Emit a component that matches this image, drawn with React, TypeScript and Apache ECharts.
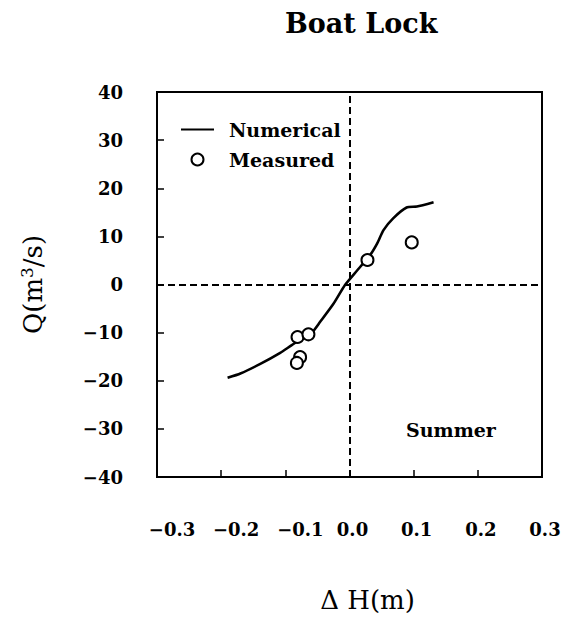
import React, { useEffect, useRef } from "react";
import * as echarts from "echarts";

const numericalX = [-0.19, -0.17, -0.139, -0.108, -0.09, -0.072, -0.058, -0.046, -0.025, -0.007, 0.0115, 0.032, 0.043, 0.053, 0.068, 0.089, 0.105, 0.131];
const numericalQ = [-19.4, -18.5, -16.5, -14.2, -12.6, -11.1, -9.9, -7.8, -4.0, -0.1, 2.85, 6.1, 8.5, 11.3, 13.75, 16.0, 16.2, 17.1];
const measuredX = [-0.081, -0.064, -0.077, -0.082, 0.028, 0.097];
const measuredQ = [-10.9, -10.35, -15.1, -16.3, 5.1, 8.75];

const FONT = "'DejaVu Serif', serif";

function fmt(v: number): string {
  const s = Math.abs(v) < 1e-9 ? "0" : String(Math.round(v));
  return s.replace("-", "\u2212");
}
function fmtX(v: number): string {
  const r = Math.round(v * 10) / 10;
  const s = Math.abs(r) < 1e-9 ? "0.0" : r.toFixed(1);
  return r < -1e-9 ? "{neg|" + s.replace("-", "\u2212") + "}" : "{pos|" + s + "}";
}

export default function App() {
  const ref = useRef<HTMLDivElement>(null);
  useEffect(() => {
    if (!ref.current) return;
    const chart = echarts.init(ref.current, null, { renderer: "svg" });
    chart.setOption({
      animation: false,
      backgroundColor: "#fff",
      title: {
        text: "Boat Lock",
        left: 280,
        top: 5,
        textStyle: { fontFamily: FONT, fontWeight: "bold", fontSize: 27, color: "#000" },
      },
      grid: { left: 157, right: 26, top: 92, bottom: 146, show: true, borderColor: "#000", borderWidth: 2 },
      legend: {
        orient: "vertical",
        left: 180,
        top: 120,
        itemWidth: 33,
        itemHeight: 12,
        itemGap: 11,
        padding: 0,
        textStyle: { fontFamily: FONT, fontWeight: "bold", fontSize: 19, color: "#000", padding: [0, 0, 0, 10] },
        data: [
          { name: "Numerical", itemStyle: { color: "rgba(0,0,0,0)", borderWidth: 0, opacity: 0 } },
          { name: "Measured", icon: "emptyCircle" },
        ],
      },
      xAxis: {
        type: "value",
        min: -0.3,
        max: 0.3,
        interval: 0.1,
        name: "\u0394 H(m)",
        nameLocation: "middle",
        nameGap: 110,
        nameTextStyle: { fontFamily: FONT, fontSize: 26, color: "#000", padding: [0, 0, 0, 36] },
        splitLine: { show: false },
        axisLine: { onZero: false, lineStyle: { color: "#000", width: 2 } },
        axisTick: { inside: true, length: 7, lineStyle: { color: "#000", width: 1.5 } },
        axisLabel: {
          margin: 43,
          formatter: fmtX,
          color: "#000",
          rich: {
            neg: { fontFamily: FONT, fontWeight: "bold", fontSize: 18, color: "#000", padding: [0, 0, 0, 30] },
            pos: { fontFamily: FONT, fontWeight: "bold", fontSize: 18, color: "#000", padding: [0, 0, 0, 6] },
          },
        },
      },
      yAxis: {
        type: "value",
        min: -40,
        max: 40,
        interval: 10,
        name: "Q(m{sup|3}/s)",
        nameLocation: "middle",
        nameRotate: 90,
        nameGap: 110,
        nameTextStyle: {
          fontFamily: FONT,
          fontSize: 26,
          color: "#000",
          rich: { sup: { fontFamily: FONT, fontSize: 17, color: "#000", verticalAlign: "top", padding: [0, 0, 12, 0] } },
        },
        splitLine: { show: false },
        axisLine: { onZero: false, lineStyle: { color: "#000", width: 2 } },
        axisTick: { inside: true, length: 7, lineStyle: { color: "#000", width: 1.5 } },
        axisLabel: {
          margin: 34,
          formatter: fmt,
          fontFamily: FONT,
          fontWeight: "bold",
          fontSize: 18,
          color: "#000",
        },
      },
      graphic: [
        {
          type: "text",
          left: 406,
          top: 420,
          style: { text: "Summer", fontFamily: FONT, fontWeight: "bold", fontSize: 19, fill: "#000" },
        },
      ],
      series: [
        {
          name: "Numerical",
          type: "line",
          data: numericalX.map((x, i) => [x, numericalQ[i]]),
          symbol: "none",
          smooth: 0.2,
          lineStyle: { color: "#000", width: 2.6 },
          itemStyle: { color: "#000" },
          markLine: {
            silent: true,
            symbol: "none",
            label: { show: false },
            lineStyle: { color: "#000", width: 2, type: [7, 4] },
            data: [{ xAxis: 0 }, { yAxis: 0 }],
          },
          z: 3,
        },
        {
          name: "Measured",
          type: "scatter",
          data: measuredX.map((x, i) => [x, measuredQ[i]]),
          symbol: "emptyCircle",
          symbolSize: 12,
          itemStyle: { color: "#000", borderColor: "#000", borderWidth: 1.6, opacity: 1 },
          z: 4,
        },
      ],
    });
    return () => chart.dispose();
  }, []);
  return <div ref={ref} style={{ position: "absolute", left: 0, top: 0, width: 568, height: 623 }} />;
}
